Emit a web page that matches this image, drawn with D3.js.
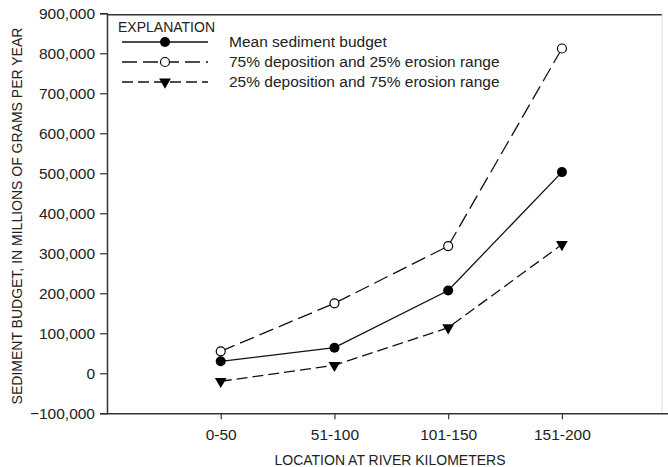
<!DOCTYPE html>
<html>
<head>
<meta charset="utf-8">
<script src="https://cdn.jsdelivr.net/npm/d3@7"></script>
<style>
  html, body { margin: 0; padding: 0; background: #fff; }
  svg text { font-family: "Liberation Sans", Arial, sans-serif; fill: #222; }
</style>
</head>
<body>
<svg id="chart" width="668" height="467"></svg>
<script>
// ---- data ----
const categories = ["0-50", "51-100", "101-150", "151-200"];
const meanBudget = [30000, 64000, 207000, 503000];
const range75Dep = [55000, 175000, 318000, 812000];
const range25Dep = [-20000, 20000, 114000, 322000];
const yTicks = [-100000, 0, 100000, 200000, 300000, 400000, 500000, 600000, 700000, 800000, 900000];
const seriesNames = ["Mean sediment budget", "75% deposition and 25% erosion range", "25% deposition and 75% erosion range"];

const svg = d3.select("#chart");
const pL = 107, pR = 662, pT = 13.3, pB = 413.3;

const x = d3.scaleLinear().domain([0, 4.88]).range([pL, pR]);
const y = d3.scaleLinear().domain([-100000, 900000]).range([pB, pT]);
const fmt = d3.format(",");

// frame
svg.append("line").attr("x1", pL).attr("x2", pR).attr("y1", pT + 1.5).attr("y2", pT + 1.5)
  .attr("stroke", "#333").attr("stroke-width", 1.5);
svg.append("line").attr("x1", pR).attr("x2", pR).attr("y1", pT + 1.5).attr("y2", pB)
  .attr("stroke", "#ddd").attr("stroke-width", 1);

// y axis
const yAxis = svg.append("g").attr("transform", `translate(${pL},0)`)
  .call(d3.axisLeft(y).tickValues(yTicks).tickFormat(fmt).tickSize(7).tickPadding(5));
yAxis.select(".domain").attr("stroke", "#333").attr("stroke-width", 1.5);
yAxis.selectAll(".tick line").attr("stroke", "#333").attr("stroke-width", 1.2);
yAxis.selectAll("text").style("font-size", "15.5px").attr("fill", "#222");

// x axis
const xAxis = svg.append("g").attr("transform", `translate(0,${pB})`)
  .call(d3.axisBottom(x).tickValues([1, 2, 3, 4]).tickFormat((d) => categories[d - 1]).tickSize(6).tickPadding(10).tickSizeOuter(0));
xAxis.select(".domain").attr("stroke", "#333").attr("stroke-width", 1.5).attr("d", `M${pL},0.5H668`);
xAxis.selectAll(".tick line").attr("stroke", "#333").attr("stroke-width", 1.2);
xAxis.selectAll("text").style("font-size", "15.5px").attr("fill", "#222");

// axis titles
svg.append("text").attr("x", 390).attr("y", 465).attr("text-anchor", "middle")
  .style("font-size", "14px").text("LOCATION AT RIVER KILOMETERS");
svg.append("text").attr("transform", "translate(22,216) rotate(-90)").attr("text-anchor", "middle")
  .style("font-size", "14px").text("SEDIMENT BUDGET, IN MILLIONS OF GRAMS PER YEAR");

// series
const series = [
  { name: seriesNames[0], values: meanBudget, dash: null, marker: "filled" },
  { name: seriesNames[1], values: range75Dep, dash: "15,6", marker: "open" },
  { name: seriesNames[2], values: range25Dep, dash: "11,5", marker: "tri" }
];

const line = d3.line().x((d, i) => x(i + 1)).y((d) => y(d));

function drawMarker(g, type, cx, cy) {
  if (type === "filled") {
    g.append("circle").attr("cx", cx).attr("cy", cy).attr("r", 5).attr("fill", "#000");
  } else if (type === "open") {
    g.append("circle").attr("cx", cx).attr("cy", cy).attr("r", 4.5).attr("fill", "#fff")
      .attr("stroke", "#000").attr("stroke-width", 1.2);
  } else {
    const tri = d3.symbol().type(d3.symbolTriangle).size(60);
    g.append("path").attr("d", tri()).attr("transform", `translate(${cx},${cy}) rotate(180)`).attr("fill", "#000");
  }
}

series.forEach((s) => {
  svg.append("path").datum(s.values).attr("d", line).attr("fill", "none")
    .attr("stroke", "#111").attr("stroke-width", 1.3)
    .attr("stroke-dasharray", s.dash);
  const g = svg.append("g");
  s.values.forEach((v, i) => drawMarker(g, s.marker, x(i + 1), y(v)));
});

// legend
const lg = svg.append("g");
lg.append("text").attr("x", 118).attr("y", 32).style("font-size", "14px").text("EXPLANATION");
series.forEach((s, i) => {
  const ly = 42 + i * 20;
  lg.append("line").attr("x1", 122).attr("x2", 208).attr("y1", ly).attr("y2", ly)
    .attr("stroke", "#111").attr("stroke-width", 1.3).attr("stroke-dasharray", s.dash);
  drawMarker(lg, s.marker, 165, ly);
  lg.append("text").attr("x", 229).attr("y", ly + 5).style("font-size", "15.5px").text(s.name);
});
</script>
</body>
</html>
